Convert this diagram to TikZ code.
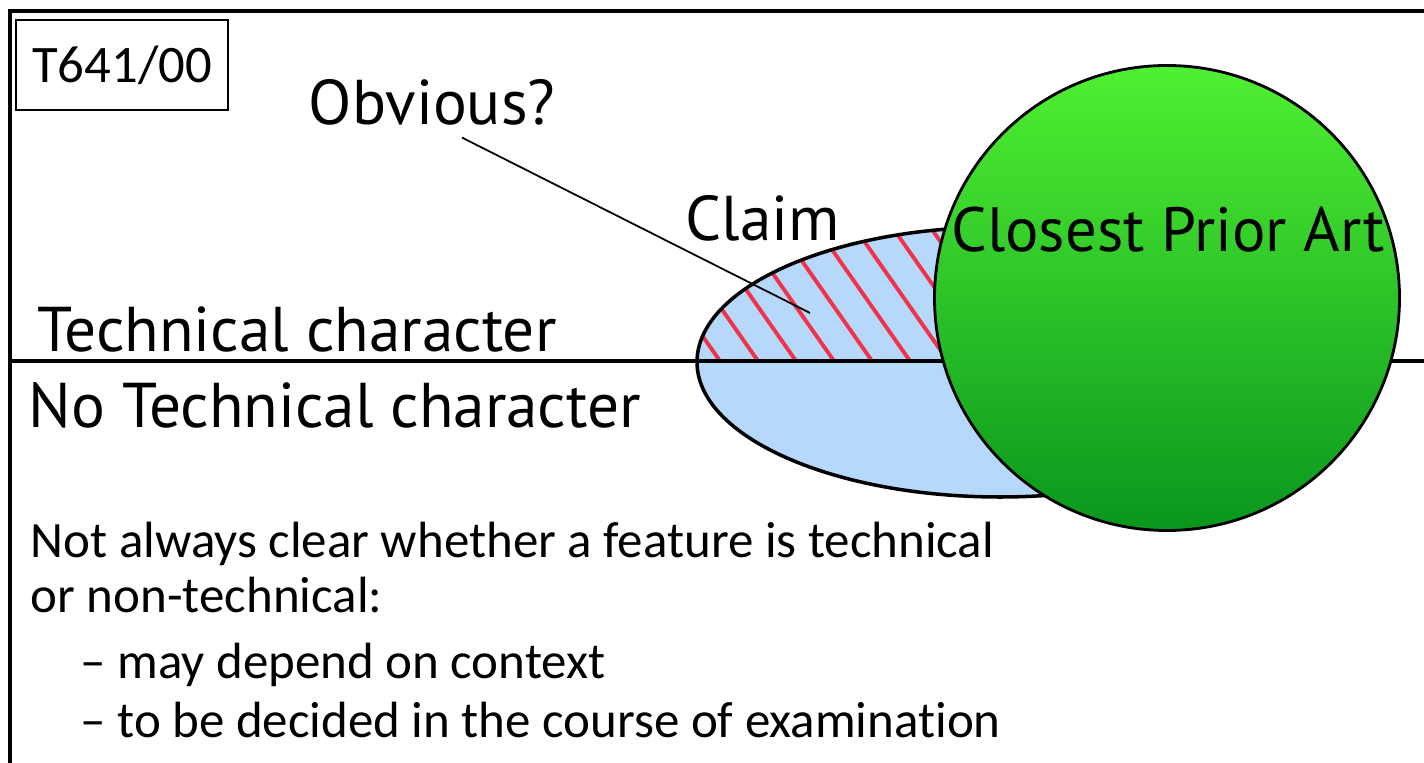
\documentclass[tikz,border=0pt]{standalone}
\usepackage{fontspec}
\setmainfont{Carlito}[Ligatures=NoCommon]
\newfontfamily\labelfont{PT Sans}
\usepackage{tikz}
\definecolor{claimblue}{RGB}{182, 216, 250}
\definecolor{hatchred}{RGB}{240, 50, 75}
\definecolor{lightgreen}{RGB}{80, 240, 50}
\definecolor{darkgreen}{RGB}{10, 150, 30}

\begin{document}
\begin{tikzpicture}[x=1cm,y=1cm,
    lbl/.style={font=\labelfont\fontsize{18}{20}\selectfont, inner sep=0pt},
    body/.style={font=\fontsize{14.5}{17}\selectfont, inner sep=0pt, anchor=base west}]
        \useasboundingbox (0,0) rectangle (14.24,-7.63);
        \coordinate (claimc) at (10.00,-3.62);
        \coordinate (cpac) at (11.67,-2.98);
        \coordinate (tip) at (8.10,-3.13);
        \coordinate (lineL) at (0.10,-3.61);
        \coordinate (lineR) at (14.24,-3.61);

        % claim ellipse with hatched technical part
        \fill[claimblue] (claimc) ellipse (3.03 and 1.35);
        \begin{scope}
            \clip (claimc) ellipse (3.03 and 1.35);
            \clip (6.5,-3.61) rectangle (10.5,-2.0);
            \foreach \i in {0,...,9}
                \draw[hatchred, line width=1.1pt] (7.20+0.38*\i,-3.61) -- ++(125:2);
        \end{scope}
        \draw[line width=1pt] (claimc) ellipse (3.03 and 1.35);
        \draw[line width=0.9pt] (lineL) -- (lineR);

        \node[circle, draw, line width=0.8pt, minimum size=4.65cm, top color=lightgreen, bottom color=darkgreen] (cpa) at (cpac) {};
        \node[lbl, font=\labelfont\fontsize{17.8}{20}\selectfont] (cpatext) at (11.68,-2.30) {Closest Prior Art};

        \node[draw, line width=0.6pt, minimum width=2.12cm, minimum height=0.90cm, font=\fontsize{15}{18}\selectfont] (case) at (1.22,-0.65) {T641/00};
        \node[lbl] (obvious) at (4.32,-1.02) {Obvious?};
        \node[lbl] (claim) at (7.63,-2.18) {Claim};
        \draw[line width=0.5pt] ([xshift=0.3cm,yshift=-0.12cm]obvious.south) -- (tip);

        \node[lbl, anchor=base west] (tech) at (0.37,-3.52) {Technical character};
        \node[lbl, anchor=base west] (notech) at (0.28,-4.28) {No Technical character};

        \node[body] (note1) at (0.30,-5.57) {Not always clear whether a feature is technical};
        \node[body] (note2) at (0.30,-6.12) {or non-technical:};
        \node[body] (note3) at (0.80,-6.78) {-- may depend on context};
        \node[body] (note4) at (0.80,-7.37) {-- to be decided in the course of examination};

        \draw[line width=1.2pt] (0.10,-7.63) -- (0.10,-0.11) -- (14.24,-0.11);
    \end{tikzpicture}
\end{document}
